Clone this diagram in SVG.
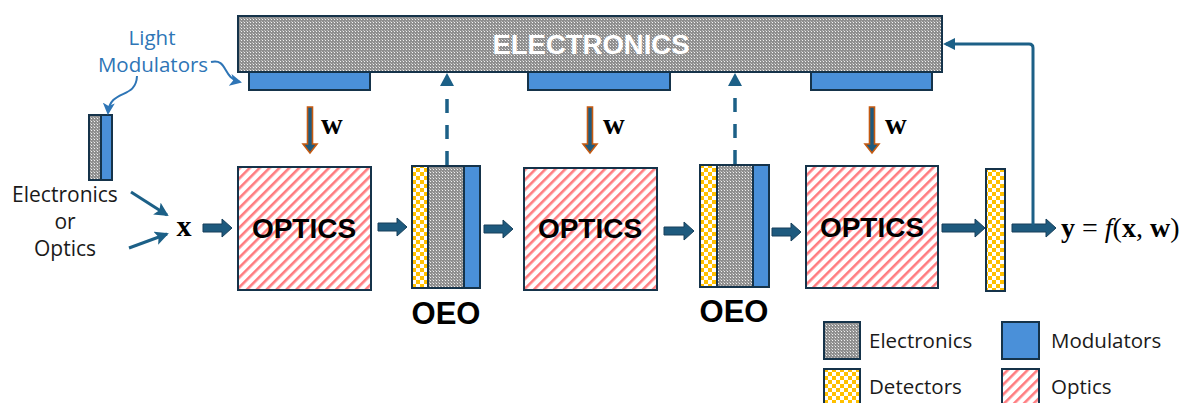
<svg xmlns="http://www.w3.org/2000/svg" width="1193" height="403" viewBox="0 0 1193 403">
<defs>
<pattern id="pElec" width="3" height="3" patternUnits="userSpaceOnUse">
<rect width="3" height="3" fill="#8f8f8f"/>
<rect x="1" y="1" width="1" height="1" fill="#f2f2f2"/>
<rect x="0" y="0" width="1" height="1" fill="#bdbdbd"/>
</pattern>
<pattern id="pDet" width="8" height="8" patternUnits="userSpaceOnUse">
<rect width="8" height="8" fill="#ffffff"/>
<rect width="4" height="4" fill="#ffc000"/>
<rect x="4" y="4" width="4" height="4" fill="#ffc000"/>
</pattern>
<pattern id="pOpt" width="7" height="7" patternUnits="userSpaceOnUse" patternTransform="rotate(45)">
<rect width="7" height="7" fill="#ffffff"/>
<rect width="2.6" height="7" fill="#ff7c80"/>
</pattern>
<marker id="mTri" markerWidth="12" markerHeight="12" refX="9" refY="6" orient="auto" markerUnits="userSpaceOnUse">
<path d="M0,0 L12,6 L0,12 Z" fill="#1c6087"/>
</marker>
<marker id="mSmall" markerWidth="12" markerHeight="12" refX="10" refY="6" orient="auto" markerUnits="userSpaceOnUse">
<path d="M0,0 L12,6 L0,12 L3,6 Z" fill="#2e75b6"/>
</marker>
<marker id="mThin" markerWidth="14" markerHeight="14" refX="12" refY="7" orient="auto" markerUnits="userSpaceOnUse">
<path d="M0,0 L14,7 L0,14 L3,7 Z" fill="#1c6087"/>
</marker>
</defs>
<style>
.elec{fill:url(#pElec);stroke:#15334a;stroke-width:2}
.mod{fill:#4a90d9;stroke:#15334a;stroke-width:2}
.det{fill:url(#pDet);stroke:#15334a;stroke-width:2}
.opt{fill:url(#pOpt);stroke:#15334a;stroke-width:2}
.barrow{fill:#1e5a7e;stroke:#163f5a;stroke-width:1}
.warrow{fill:#1e5a7e;stroke:#c55a11;stroke-width:1.6}
.lbl{font-family:"Liberation Sans",Arial,sans-serif;font-weight:bold;fill:#000}
.sans{font-family:"Open Sans","Liberation Sans",Arial,sans-serif;fill:#1a1a1a}
.serif{font-family:"Liberation Serif","Times New Roman",serif;fill:#000}
.blue{fill:#2e75b6}
</style>

<g id="electronics-bar">
<rect class="elec" x="238" y="16" width="704" height="56"/>
<text class="lbl" x="591" y="54" font-size="27.5" text-anchor="middle" style="fill:#fff">ELECTRONICS</text>
</g>
<g id="modulator-top-1"><rect class="mod" x="249" y="72" width="121" height="18"/></g>
<g id="modulator-top-2"><rect class="mod" x="528" y="72" width="142" height="18"/></g>
<g id="modulator-top-3"><rect class="mod" x="811" y="72" width="121" height="18"/></g>

<g id="light-modulators-label">
<text class="sans blue" x="152" y="45" font-size="20.5" text-anchor="middle">Light</text>
<text class="sans blue" x="153" y="72" font-size="20.5" text-anchor="middle">Modulators</text>
</g>

<g id="input-module">
<rect class="elec" x="89" y="115" width="12" height="65"/>
<rect class="mod" x="101" y="115" width="11" height="65"/>
</g>
<g id="input-label">
<text class="sans" x="65" y="202" font-size="21" text-anchor="middle">Electronics</text>
<text class="sans" x="65" y="229" font-size="21" text-anchor="middle">or</text>
<text class="sans" x="65" y="256" font-size="21" text-anchor="middle">Optics</text>
</g>
<g id="x-label"><text class="serif" x="184" y="236" font-size="30" font-weight="bold" text-anchor="middle">x</text></g>

<g id="optics-1">
<rect class="opt" x="238" y="167" width="133" height="123"/>
<text class="lbl" x="304" y="238" font-size="28" text-anchor="middle">OPTICS</text>
</g>
<g id="oeo-1">
<rect class="det" x="412" y="166" width="16" height="122"/>
<rect class="elec" x="428" y="166" width="36" height="122"/>
<rect class="mod" x="464" y="166" width="16" height="122"/>
<text class="lbl" x="446" y="324" font-size="31" text-anchor="middle">OEO</text>
</g>
<g id="optics-2">
<rect class="opt" x="524" y="168" width="133" height="122"/>
<text class="lbl" x="590" y="238" font-size="28" text-anchor="middle">OPTICS</text>
</g>
<g id="oeo-2">
<rect class="det" x="700" y="165" width="17" height="122"/>
<rect class="elec" x="717" y="165" width="36" height="122"/>
<rect class="mod" x="753" y="165" width="16" height="122"/>
<text class="lbl" x="734" y="322" font-size="31" text-anchor="middle">OEO</text>
</g>
<g id="optics-3">
<rect class="opt" x="806" y="166" width="132" height="122"/>
<text class="lbl" x="872" y="237" font-size="28" text-anchor="middle">OPTICS</text>
</g>
<g id="detector-out">
<rect class="det" x="986" y="169" width="19" height="122"/>
</g>
<g id="output-label">
<text class="serif" x="1061" y="237" font-size="28"><tspan font-weight="bold">y</tspan> = <tspan font-style="italic">f</tspan>(<tspan font-weight="bold">x</tspan>, <tspan font-weight="bold">w</tspan>)</text>
</g>

<g id="connectors">
<path d="M211,62 C228,58 222,78 240,82" fill="none" stroke="#2e75b6" stroke-width="2" marker-end="url(#mSmall)"/>
<path d="M137,76 C136,100 110,88 108,113" fill="none" stroke="#2e75b6" stroke-width="2" marker-end="url(#mSmall)"/>
<line x1="131" y1="192" x2="167" y2="215" stroke="#1c6087" stroke-width="3" marker-end="url(#mThin)"/>
<line x1="129" y1="248" x2="167" y2="234" stroke="#1c6087" stroke-width="3" marker-end="url(#mThin)"/>
<path class="barrow" d="M203,224 H222 V219 L232,228 L222,237 V232 H203 Z"/>
<path class="barrow" d="M378,223 H397 V218 L407,227 L397,236 V231 H378 Z"/>
<path class="barrow" d="M484,225 H503 V220 L513,229 L503,238 V233 H484 Z"/>
<path class="barrow" d="M664,227 H684 V222 L694,231 L684,240 V235 H664 Z"/>
<path class="barrow" d="M772,228 H791 V223 L801,232 L791,241 V236 H772 Z"/>
<path class="barrow" d="M942,224 H975 V219 L985,228 L975,237 V232 H942 Z"/>
<path class="barrow" d="M1012,224 H1046 V219 L1056,228 L1046,237 V232 H1012 Z"/>
<path d="M1033,225 V48 Q1033,44 1029,44 H946" fill="none" stroke="#1c6087" stroke-width="3" marker-end="url(#mTri)"/>
<line x1="447" y1="165" x2="447" y2="88" stroke="#1c6087" stroke-width="3.5" stroke-dasharray="14,12"/>
<path d="M440,86 L447,73 L454,86 Z" fill="#1c6087"/>
<line x1="735" y1="164" x2="735" y2="88" stroke="#1c6087" stroke-width="3.5" stroke-dasharray="14,12"/>
<path d="M728,86 L735,73 L742,86 Z" fill="#1c6087"/>
<path class="warrow" d="M307.5,107 H312.5 V144 H317 L310,153 L303,144 H307.5 Z"/>
<path class="warrow" d="M587.5,107 H592.5 V144 H597 L590,153 L583,144 H587.5 Z"/>
<path class="warrow" d="M869.5,107 H874.5 V144 H879 L872,153 L865,144 H869.5 Z"/>
</g>
<g id="w-labels">
<text class="serif" x="321" y="134" font-size="30" font-weight="bold">w</text>
<text class="serif" x="603" y="134" font-size="30" font-weight="bold">w</text>
<text class="serif" x="885" y="134" font-size="30" font-weight="bold">w</text>
</g>

<g id="legend">
<rect class="elec" x="824" y="322" width="36" height="37"/>
<text class="sans" x="869" y="348" font-size="20.5">Electronics</text>
<rect class="mod" x="1002" y="322" width="37" height="37"/>
<text class="sans" x="1051" y="348" font-size="20.5">Modulators</text>
<rect class="det" x="824" y="369" width="36" height="37"/>
<text class="sans" x="869" y="394" font-size="20.5">Detectors</text>
<rect class="opt" x="1002" y="369" width="37" height="37"/>
<text class="sans" x="1051" y="394" font-size="20.5">Optics</text>
</g>
</svg>
